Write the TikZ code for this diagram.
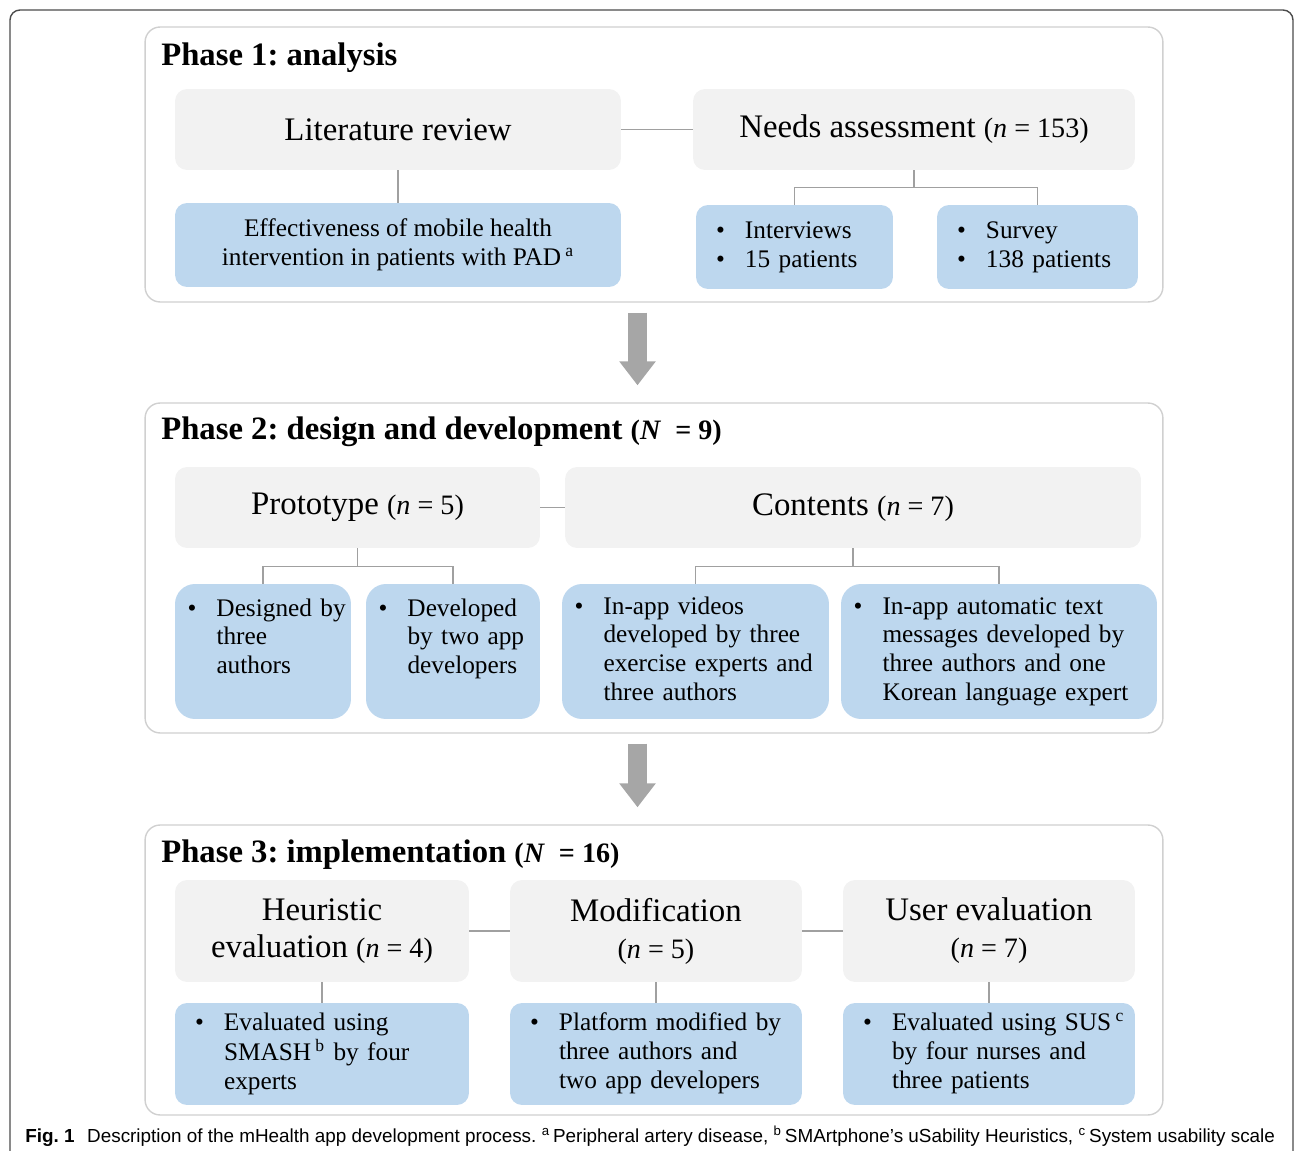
\documentclass[tikz,border=0pt]{standalone}
\usepackage{fontspec}
\setmainfont{Liberation Serif}
\newfontfamily\capfont{Liberation Sans}
\usepackage{xcolor}
\usepackage{tikz}
\usetikzlibrary{arrows.meta}
\frenchspacing

\definecolor{headgray}{HTML}{F2F2F2}
\definecolor{itemblue}{HTML}{BDD7EE}
\definecolor{linkgray}{HTML}{A0A0A0}
\definecolor{arrowgray}{HTML}{A6A6A6}
\definecolor{phasegray}{HTML}{D0D0D0}

\newcommand{\headfont}{\fontsize{18.7}{21}\selectfont}
\newcommand{\itemfont}{\fontsize{14.4}{16.4}\selectfont}
\newcommand{\nsize}{\fontsize{16}{21}\selectfont}
\newcommand{\bul}{\makebox[0.58cm][l]{\textbullet}}

\begin{document}
\begin{tikzpicture}[
    x=0.02cm, y=-0.02cm,
    frame/.style={draw=black!70, line width=0.8pt, rounded corners=0.2cm},
    phase/.style={draw=phasegray, line width=0.8pt, rounded corners=0.3cm, minimum width=20.36cm},
    title/.style={anchor=base west, inner sep=0pt, font=\fontsize{18.6}{22}\selectfont\bfseries},
    head/.style={fill=headgray, rounded corners=0.24cm, align=center, font=\headfont, minimum height=1.62cm},
    item/.style={fill=itemblue, rounded corners=0.24cm, font=\itemfont, align=left},
    link/.style={draw=linkgray, line width=0.8pt},
    flow/.style={draw=arrowgray, line width=0.38cm, -{Triangle[width=0.7cm,length=0.48cm]},
        shorten <=0.2cm, shorten >=0.34cm}
]
\useasboundingbox (0,0) rectangle (1295,1151);
\draw[frame] (10,10) rectangle (1293,1190);

% phase 1
\node[phase, minimum height=5.5cm] (p1) at (654,164.5) {};
\node[title] (t1) at (161,66) {Phase 1: analysis};
\node[head, minimum width=8.92cm] (lit) at (398,129.5) {Literature review};
\node[head, minimum width=8.84cm] (need) at (914,129.5) {Needs assessment {\nsize(\textit{n} = 153)}};
\node[item, align=center, minimum width=8.92cm, minimum height=1.68cm] (eff) at (398,245)
    {Effectiveness of mobile health\\intervention in patients with PAD\,\textsuperscript{a}};
\node[item, inner xsep=0.4cm, text width=3.14cm, minimum height=1.68cm] (intv) at (794.5,247)
    {\bul Interviews\\\bul 15 patients};
\node[item, inner xsep=0.4cm, text width=3.22cm, minimum height=1.68cm] (surv) at (1037.5,247)
    {\bul Survey\\\bul 138 patients};
\draw[link] (lit) -- (need);
\draw[link] (lit) -- (eff);
\draw[link] (need.south) -- ++(0,17) -| (intv.north);
\draw[link] (need.south) -- ++(0,17) -| (surv.north);

% phase 2
\node[phase, minimum height=6.6cm] (p2) at (654,568) {};
\node[title] (t2) at (161,440) {Phase 2: design and development {\fontsize{16}{20}\selectfont(\textit{N}~ = 9)}};
\node[head, minimum width=7.3cm] (proto) at (357.5,507.5) {Prototype {\nsize(\textit{n} = 5)}};
\node[head, minimum width=11.52cm] (cont) at (853,507.5) {Contents {\nsize(\textit{n} = 7)}};
\node[item, rounded corners=0.4cm, inner xsep=0.25cm, text width=3.02cm, minimum height=2.7cm] (des) at (263,651.5)
    {\begin{tabular}{@{}l@{}l@{}}\bul & Designed by\\ & three\\ & authors\\[14pt]\end{tabular}};
\node[item, rounded corners=0.4cm, inner xsep=0.25cm, text width=2.98cm, minimum height=2.7cm] (dev) at (453,651.5)
    {\begin{tabular}{@{}l@{}l@{}}\bul & Developed\\ & by two app\\ & developers\\[14pt]\end{tabular}};
\node[item, rounded corners=0.4cm, inner xsep=0.25cm, text width=4.84cm, minimum height=2.7cm] (vid) at (695.5,651.5)
    {\begin{tabular}{@{}l@{}l@{}}\bul & In-app videos\\ & developed by three\\ & exercise experts and\\ & three authors\end{tabular}};
\node[item, rounded corners=0.4cm, inner xsep=0.25cm, text width=5.82cm, minimum height=2.7cm] (msg) at (999,651.5)
    {\begin{tabular}{@{}l@{}l@{}}\bul & In-app automatic text\\ & messages developed by\\ & three authors and one\\ & Korean language expert\end{tabular}};
\draw[link] (proto) -- (cont);
\draw[link] (proto.south) -- ++(0,18) -| (des.north);
\draw[link] (proto.south) -- ++(0,18) -| (dev.north);
\draw[link] (cont.south) -- ++(0,18) -| (vid.north);
\draw[link] (cont.south) -- ++(0,18) -| (msg.north);

% phase 3
\node[phase, minimum height=5.8cm] (p3) at (654,970) {};
\node[title] (t3) at (161,862) {Phase 3: implementation {\fontsize{16}{20}\selectfont(\textit{N}~ = 16)}};
\node[head, minimum width=5.88cm, minimum height=2.04cm] (heur) at (322,931) {Heuristic\\evaluation {\nsize(\textit{n} = 4)}};
\node[head, minimum width=5.84cm, minimum height=2.04cm] (modi) at (656,931) {Modification\\{\nsize(\textit{n} = 5)}};
\node[head, minimum width=5.84cm, minimum height=2.04cm] (user) at (989,931) {User evaluation\\{\nsize(\textit{n} = 7)}};
\node[item, inner xsep=0.4cm, text width=5.08cm, minimum height=2.04cm] (smash) at (322,1054)
    {\begin{tabular}{@{}l@{}l@{}}\bul & Evaluated using\\ & SMASH\,\textsuperscript{b} by four\\ & experts\end{tabular}};
\node[item, inner xsep=0.4cm, text width=5.04cm, minimum height=2.04cm] (plat) at (656,1054)
    {\begin{tabular}{@{}l@{}l@{}}\bul & Platform modified by\\ & three authors and\\ & two app developers\end{tabular}};
\node[item, inner xsep=0.4cm, text width=5.04cm, minimum height=2.04cm] (sus) at (989,1054)
    {\begin{tabular}{@{}l@{}l@{}}\bul & Evaluated using SUS\,\textsuperscript{c}\\ & by four nurses and\\ & three patients\end{tabular}};
\draw[link] (heur) -- (modi);
\draw[link] (modi) -- (user);
\draw[link] (heur) -- (smash);
\draw[link] (modi) -- (plat);
\draw[link] (user) -- (sus);

\draw[flow] ([xshift=-0.33cm]p1.south) -- ([xshift=-0.33cm]p2.north);
\draw[flow] ([xshift=-0.33cm]p2.south) -- ([xshift=-0.33cm]p3.north);

\node[anchor=base west, inner sep=0pt, font=\capfont\fontsize{10.75}{12}\selectfont] (cap) at (25,1142)
    {\textbf{Fig. 1}\hspace{0.25cm}Description of the mHealth app development process. \textsuperscript{a}\,Peripheral artery disease, \textsuperscript{b}\,SMArtphone’s uSability Heuristics, \textsuperscript{c}\,System usability scale};
\end{tikzpicture}
\end{document}
